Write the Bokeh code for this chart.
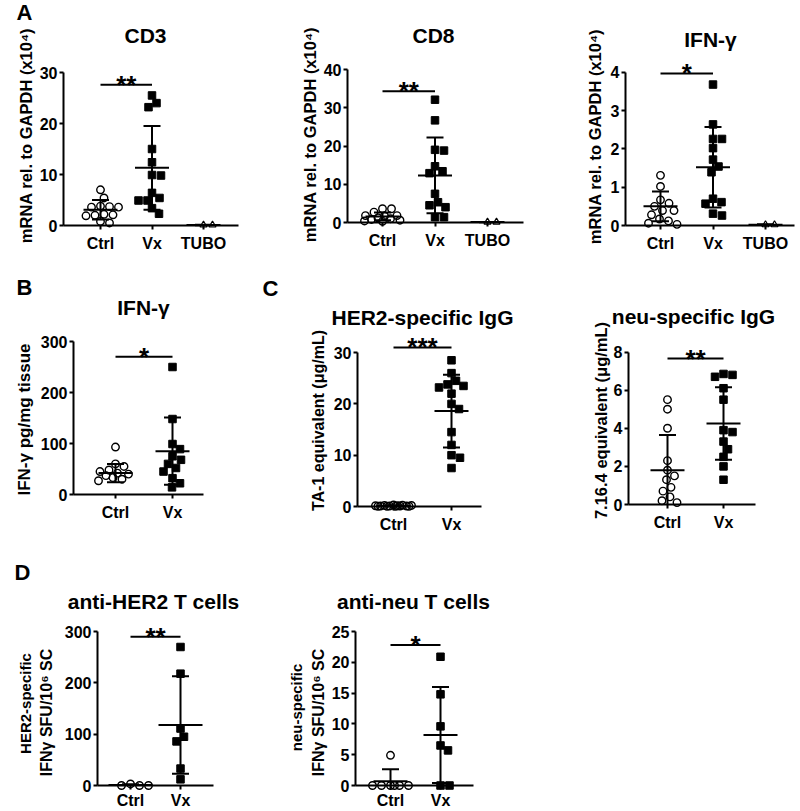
import numpy as np
from bokeh.plotting import figure
from bokeh.models import Label, FixedTicker, Range1d
from bokeh.layouts import column, row
from bokeh.embed import file_html
from bokeh.resources import INLINE
from bokeh.core.properties import value

FONT = "Liberation Sans"

# ---------------- data ----------------
cats_A = ["Ctrl", "Vx", "TUBO"]
cats_2 = ["Ctrl", "Vx"]

# A: CD3 mRNA (x10^4)
cd3_ctrl = [7.0, 5.4, 3.7, 3.6, 3.6, 3.8, 2.1, 2.0, 1.9, 2.2, 0.8, 0.5]
cd3_vx = [25.5, 24.0, 23.2, 15.0, 12.4, 9.8, 9.9, 6.4, 4.9, 4.9, 5.4, 3.4, 2.3]
cd3_tubo = [0.1, 0.1]
cd3_mean = [3.1, 11.3, 0.1]
cd3_sd = [1.9, 8.2, 0.05]

# A: CD8 mRNA
cd8_ctrl = [3.6, 2.7, 3.6, 1.8, 1.8, 1.7, 1.2, 1.0, 0.8, 0.6, 0.4, 0.3]
cd8_vx = [32.1, 26.7, 18.8, 19.0, 14.7, 13.4, 12.9, 7.5, 4.5, 4.0, 5.3, 1.4, 1.4]
cd8_tubo = [0.1, 0.1]
cd8_mean = [1.6, 12.3, 0.1]
cd8_sd = [1.0, 9.9, 0.05]

# A: IFN-g mRNA
ifna_ctrl = [1.31, 1.02, 0.67, 0.58, 0.50, 0.39, 0.39, 0.28, 0.17, 0.12, 0.06, 0.03]
ifna_vx = [3.68, 2.64, 2.26, 2.26, 2.02, 1.72, 1.54, 1.39, 0.61, 0.57, 0.70, 0.26, 0.31]
ifna_tubo = [0.02, 0.02]
ifna_mean = [0.50, 1.52, 0.02]
ifna_sd = [0.39, 1.05, 0.01]

# B: IFN-g protein
ifnb_ctrl = [93, 60, 55, 48, 45, 42, 40, 37, 33, 30, 27]
ifnb_vx = [250, 148, 99, 89, 75, 68, 60, 52, 45, 32, 22, 14]
ifnb_mean = [42, 85]
ifnb_sd = [18, 66]

# C: HER2-specific IgG
her_ctrl = [0.3, 0.25, 0.2, 0.2, 0.15, 0.15, 0.1, 0.1, 0.1, 0.1, 0.05, 0.05, 0.05, 0.05]
her_vx = [28.5, 26.0, 24.5, 23.8, 23.5, 23.2, 22.0, 20.0, 19.0, 14.5, 12.0, 10.0, 9.5, 7.5]
her_mean = [0.15, 18.6]
her_sd = [0.08, 7.1]

# C: neu-specific IgG
neu_ctrl = [5.5, 5.0, 4.0, 2.3, 1.8, 1.5, 1.3, 0.9, 0.7, 0.4, 0.2, 0.1]
neu_vx = [6.85, 6.8, 6.7, 6.1, 5.5, 3.9, 3.8, 3.3, 2.9, 2.5, 2.0, 1.3]
neu_mean = [1.8, 4.25]
neu_sd = [1.85, 1.9]

# D: anti-HER2 T cells
th_ctrl = [0, 0, 0, 3]
th_vx = [270, 218, 111, 95, 86, 33, 12]
th_mean = [1, 118]
th_sd = [1.5, 95]

# D: anti-neu T cells
tn_ctrl = [4.9, 0, 0, 0, 0, 0, 0]
tn_vx = [20.9, 14.8, 9.6, 6.5, 5.7, 0, 0]
tn_mean = [0.7, 8.2]
tn_sd = [1.95, 7.8]

# significance bars
sig_vals = {"cd3": 27.6, "cd8": 34.3, "ifna": 3.97, "ifnb": 270, "her": 31.0,
            "neu": 7.66, "th": 290, "tn": 22.8}
sig_stars = {"cd3": "**", "cd8": "**", "ifna": "*", "ifnb": "*", "her": "***",
             "neu": "**", "th": "**", "tn": "*"}


def swarm(vals, ppu, d=8.8, maxoff=18.0, step=0.5):
    v = np.asarray(vals, float)
    order = np.argsort(-v, kind="stable")
    cands = [0.0]
    k = 1
    while k * step <= maxoff:
        cands += [k * step, -k * step]
        k += 1
    placed = []
    offs = np.zeros(len(v))
    for i in order:
        yp = v[i] * ppu
        dd = d
        chosen = None
        while chosen is None:
            for c in cands:
                if all((c - xo) ** 2 + (yp - yo) ** 2 >= dd * dd for xo, yo in placed):
                    chosen = c
                    break
            dd *= 0.85
            if chosen is None and dd < 0.5:
                chosen = 0.0
        offs[i] = chosen
        placed.append((chosen, yp))
    return offs


def panel(geo, cats, groups, means, sds, yticks, key, title, title_pos,
          ylabels, letters=(), mean_hw=17, cap_hw=8.5, xstand=5):
    fx0, fy0, fx1, fy1 = geo["fig"]
    ax, c1, s, y0, ppu = geo["ax"], geo["c1"], geo["s"], geo["y0"], geo["ppu"]
    fright = geo["fright"]

    def X(px):
        return 1 + (px - c1) / s

    def Y(py):
        return (y0 - py) / ppu

    p = figure(width=fx1 - fx0, height=fy1 - fy0,
               x_range=Range1d(X(fx0), X(fx1)), y_range=Range1d(Y(fy1), Y(fy0)),
               min_border=0, min_border_left=0, min_border_right=0,
               min_border_top=0, min_border_bottom=0,
               output_backend="svg", toolbar_location=None)
    p.title.visible = False
    p.grid.visible = False
    p.outline_line_color = None
    p.background_fill_color = "white"
    p.border_fill_color = "white"

    # points
    for gi, vals in enumerate(groups):
        xc = gi + 1
        offs = swarm(vals, ppu)
        xs = list(xc + offs / s)
        if gi == 0:
            p.scatter(x=xs, y=list(vals), marker="circle", size=7.5, fill_color=None,
                      line_color="black", line_width=1.4)
        elif gi == 1:
            p.scatter(x=xs, y=list(vals), marker="square", size=7.5, fill_color="black",
                      line_color="black", line_width=1)
        else:
            p.scatter(x=xs, y=list(vals), marker="triangle", size=7, fill_color=None,
                      line_color="black", line_width=1.2)

    # mean +/- SD
    xc = np.arange(1, len(cats) + 1, dtype=float)
    m = np.asarray(means, float)
    sd = np.asarray(sds, float)
    hi = m + sd
    lo = np.maximum(m - sd, 0)
    kw = dict(line_width=2, line_color="black")
    p.segment(x0=list(xc), y0=list(lo), x1=list(xc), y1=list(hi), **kw)
    p.segment(x0=list(xc - mean_hw / s), y0=list(m), x1=list(xc + mean_hw / s), y1=list(m), **kw)
    p.segment(x0=list(xc - cap_hw / s), y0=list(hi), x1=list(xc + cap_hw / s), y1=list(hi), **kw)
    ok = (m - sd) >= 0
    if ok.any():
        p.segment(x0=list(xc[ok] - cap_hw / s), y0=list((m - sd)[ok]),
                  x1=list(xc[ok] + cap_hw / s), y1=list((m - sd)[ok]), **kw)

    # significance
    sv = sig_vals[key]
    p.segment(x0=[1], y0=[sv], x1=[2], y1=[sv], **kw)
    p.text(x=[1.5], y=[sv], text=[sig_stars[key]], text_font=value(FONT),
           text_font_style="bold", text_font_size="26px", text_align="center",
           text_baseline="alphabetic", text_color="black")

    # axes (placed at fixed data locations inside the frame)
    xa = p.xaxis[0]
    ya = p.yaxis[0]
    xa.fixed_location = 0
    xa.bounds = (X(ax), X(fright))
    ya.fixed_location = X(ax)
    ya.bounds = (0, yticks[-1])
    xa.ticker = FixedTicker(ticks=list(range(1, len(cats) + 1)))
    xa.major_label_overrides = {i + 1: c for i, c in enumerate(cats)}
    ya.ticker = FixedTicker(ticks=list(yticks))
    for a in (xa, ya):
        a.axis_line_width = 2
        a.axis_line_color = "black"
        a.major_tick_line_width = 2
        a.major_tick_line_color = "black"
        a.major_tick_out = 4
        a.major_tick_in = 0
        a.minor_tick_line_color = None
        a.major_label_text_font = FONT
        a.major_label_text_font_style = "bold"
        a.major_label_text_font_size = "16px"
        a.major_label_text_color = "black"
    xa.major_label_standoff = xstand
    ya.major_label_standoff = 2

    def lab(px, py, text, size, angle=0):
        p.add_layout(Label(x=X(px), y=Y(py), text=text, text_font=FONT,
                           text_font_style="bold", text_font_size=f"{size}px",
                           text_align="center", text_baseline="middle",
                           angle=angle, angle_units="deg", text_color="black"))

    lab(title_pos[0], title_pos[1], title, 21)
    for (px, py, t, sz) in ylabels:
        lab(px, py, t, sz, angle=90)
    for (px, py, t) in letters:
        lab(px, py, t, 22)
    return p


g_cd3 = dict(fig=(0, 0, 288, 262), ax=63, c1=100, s=51.5, y0=225, ppu=5.1, fright=238)
g_cd8 = dict(fig=(288, 0, 568, 262), ax=347, c1=382, s=52.5, y0=222, ppu=3.825, fright=523)
g_ifa = dict(fig=(568, 0, 798, 262), ax=625, c1=660, s=52.5, y0=225, ppu=38.3, fright=794)
g_b = dict(fig=(0, 262, 282, 546), ax=73, c1=115, s=57, y0=494, ppu=0.51, fright=203)
g_c1 = dict(fig=(282, 262, 562, 546), ax=357, c1=393, s=58, y0=506, ppu=5.13, fright=481)
g_c2 = dict(fig=(562, 262, 798, 546), ax=628, c1=667, s=56, y0=504, ppu=19.06, fright=755)
g_d1 = dict(fig=(0, 546, 260, 810), ax=97, c1=130, s=50, y0=785, ppu=0.513, fright=213)
g_d2 = dict(fig=(260, 546, 520, 810), ax=355, c1=390, s=50, y0=785, ppu=6.16, fright=473)

mrna = "mRNA rel. to GAPDH (x10\u2074)"
p1 = panel(g_cd3, cats_A, [cd3_ctrl, cd3_vx, cd3_tubo], cd3_mean, cd3_sd, [0, 10, 20, 30],
           "cd3", "CD3", (145, 35), [(25, 135, mrna, 16.5)], letters=[(24, 12, "A")])
p2 = panel(g_cd8, cats_A, [cd8_ctrl, cd8_vx, cd8_tubo], cd8_mean, cd8_sd, [0, 10, 20, 30, 40],
           "cd8", "CD8", (433, 35), [(309, 134, mrna, 16.5)])
p3 = panel(g_ifa, cats_A, [ifna_ctrl, ifna_vx, ifna_tubo], ifna_mean, ifna_sd, [0, 1, 2, 3, 4],
           "ifna", "IFN-\u03b3", (710, 39), [(594, 136, mrna, 16.5)])
p4 = panel(g_b, cats_2, [ifnb_ctrl, ifnb_vx], ifnb_mean, ifnb_sd, [0, 100, 200, 300],
           "ifnb", "IFN-\u03b3", (143, 307), [(24, 419, "IFN-\u03b3 pg/mg tissue", 17)],
           letters=[(24, 287, "B"), (270, 288, "C")])
p5 = panel(g_c1, cats_2, [her_ctrl, her_vx], her_mean, her_sd, [0, 10, 20, 30],
           "her", "HER2-specific IgG", (422, 317), [(318, 420, "TA-1 equivalent (\u03bcg/mL)", 16)])
p6 = panel(g_c2, cats_2, [neu_ctrl, neu_vx], neu_mean, neu_sd, [0, 2, 4, 6, 8],
           "neu", "neu-specific IgG", (693, 316), [(600, 420, "7.16.4 equivalent (\u03bcg/mL)", 16.5)])
p7 = panel(g_d1, cats_2, [th_ctrl, th_vx], th_mean, th_sd, [0, 100, 200, 300],
           "th", "anti-HER2 T cells", (153, 601),
           [(25, 703, "HER2-specific", 15), (46, 712, "IFN\u03b3 SFU/10\u2076 SC", 16)],
           letters=[(22, 572, "D")], mean_hw=22, xstand=2)
p8 = panel(g_d2, cats_2, [tn_ctrl, tn_vx], tn_mean, tn_sd, [0, 5, 10, 15, 20, 25],
           "tn", "anti-neu T cells", (413, 601),
           [(296, 707, "neu-specific", 15), (318, 712, "IFN\u03b3 SFU/10\u2076 SC", 16)],
           xstand=2)

layout = column(row(p1, p2, p3), row(p4, p5, p6), row(p7, p8))
open("out.html", "w").write(file_html(layout, INLINE))
